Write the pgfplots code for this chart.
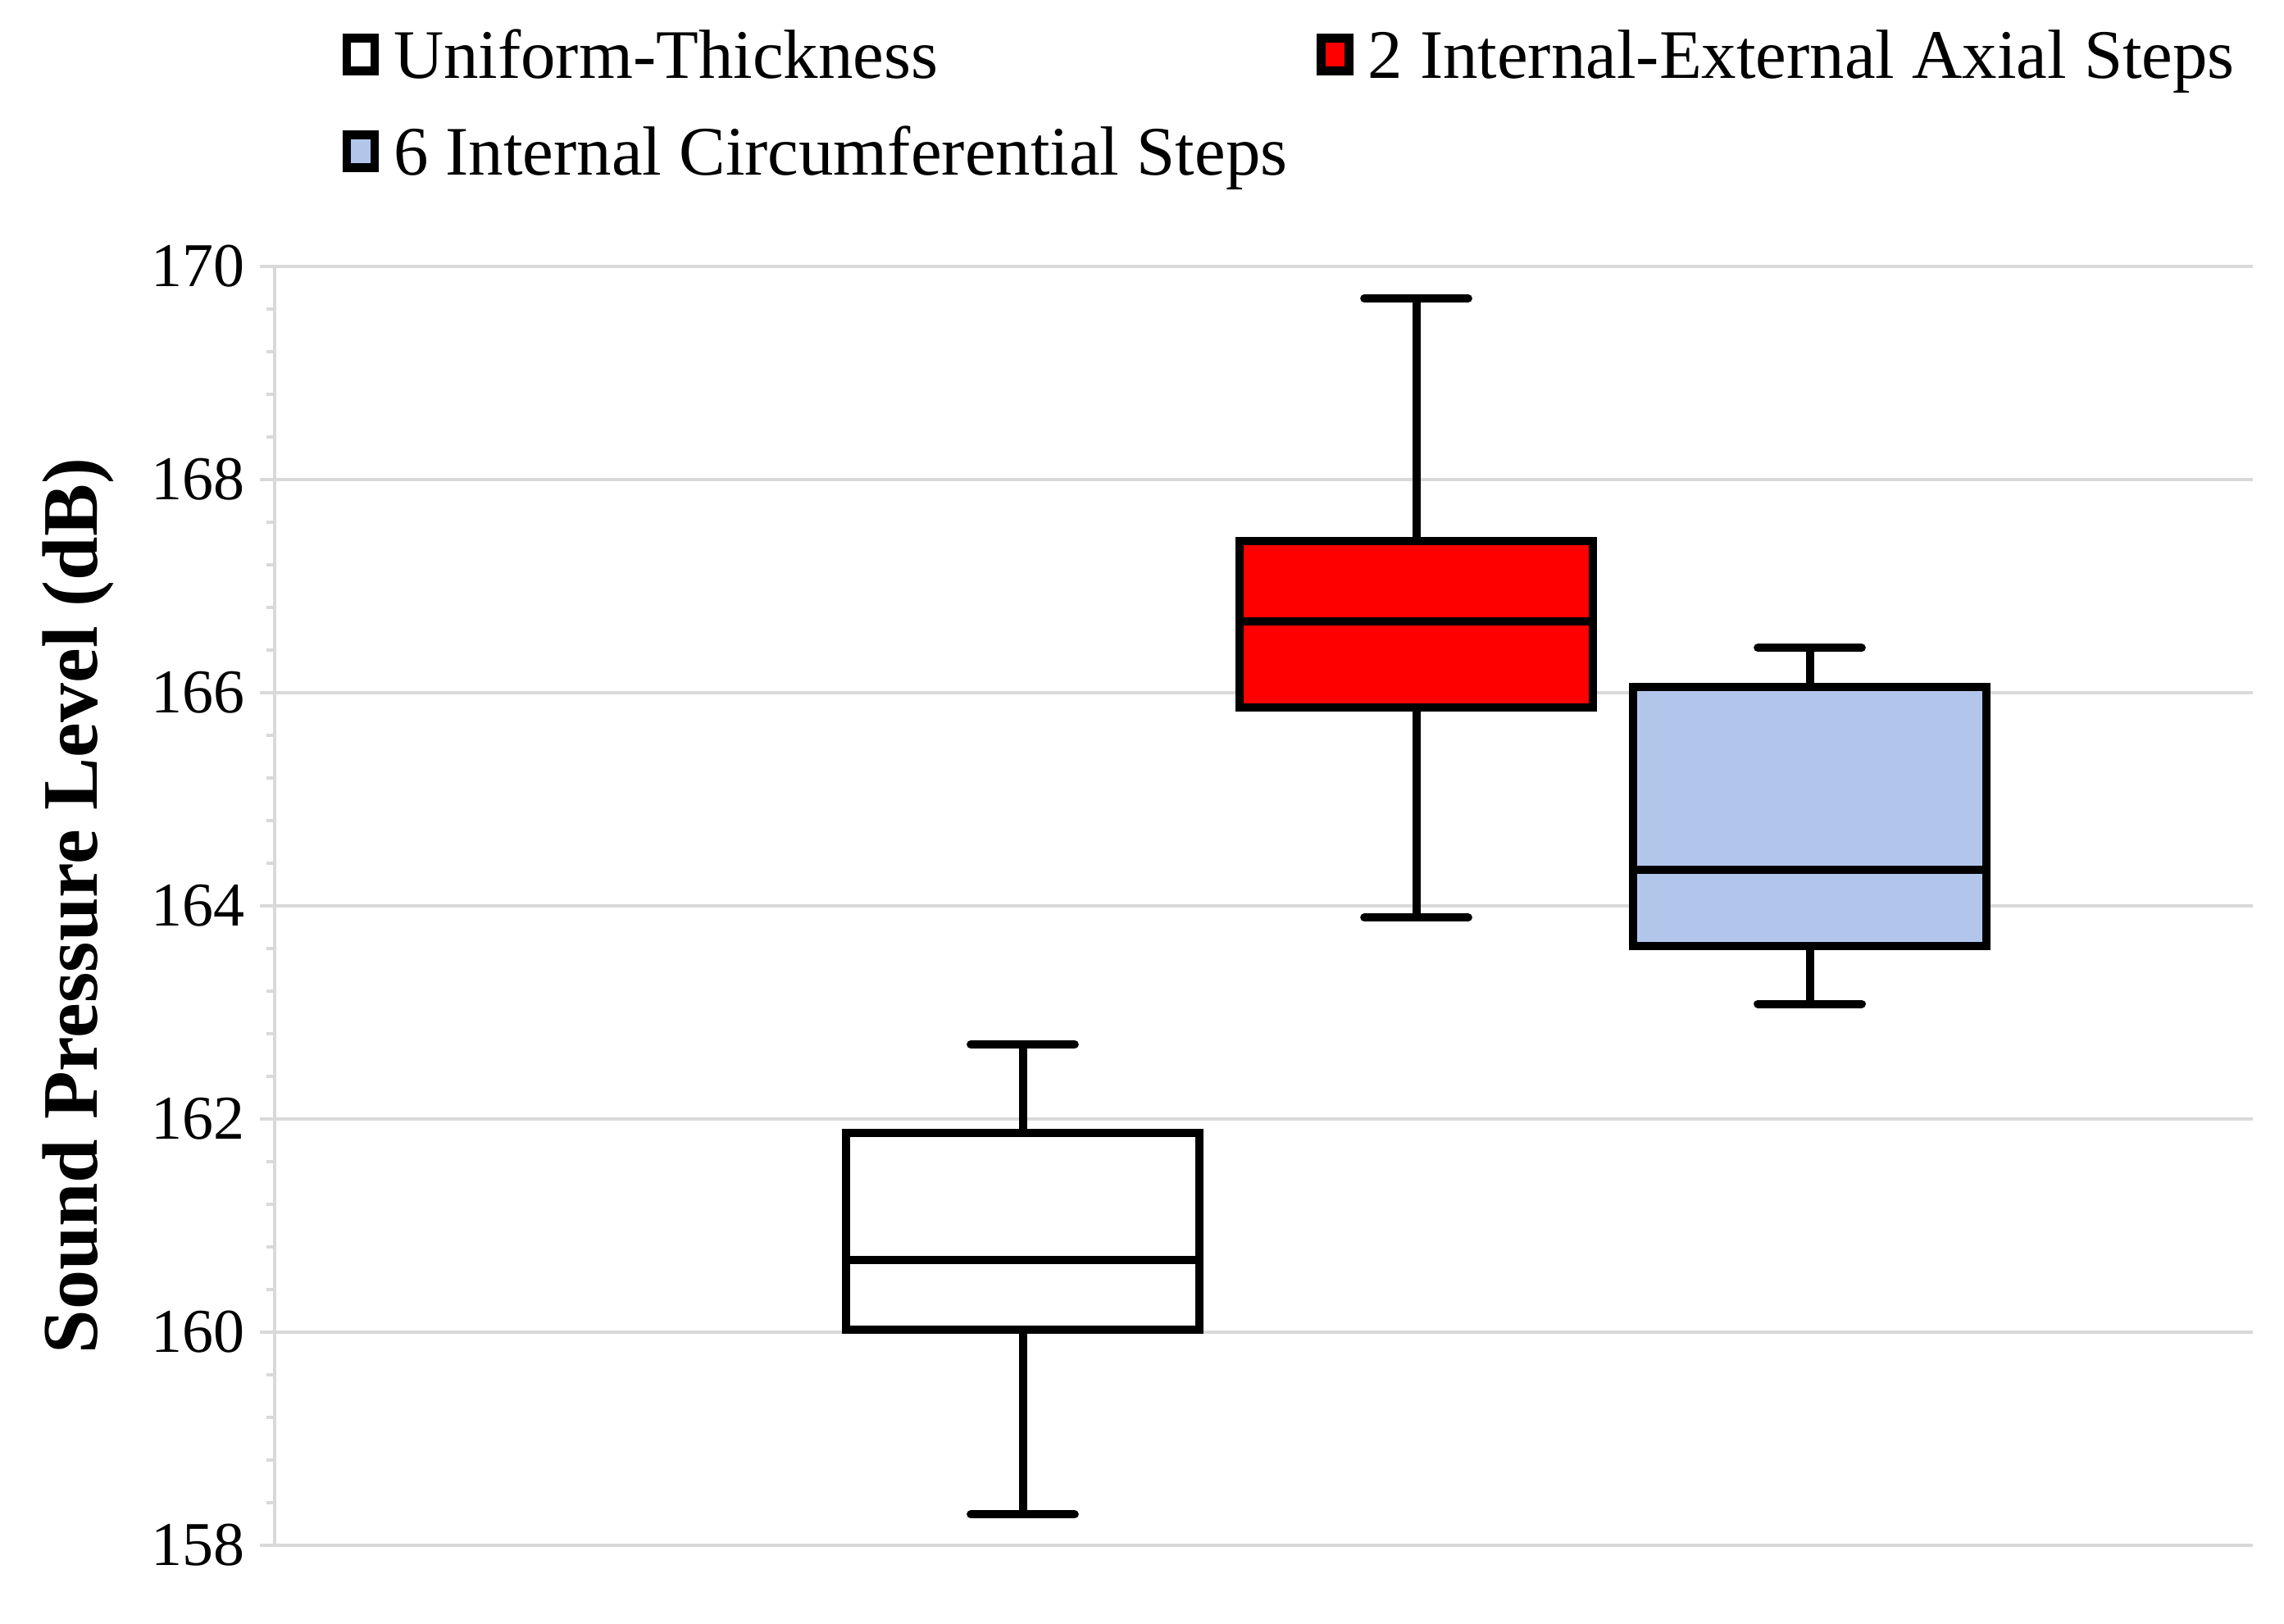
\documentclass[border=0pt]{standalone}
\usepackage{fontspec}
\setmainfont{Liberation Serif}
\usepackage{pgfplots}
\pgfplotsset{compat=1.18}
\definecolor{gridc}{RGB}{217,217,217}
\definecolor{boxblue}{RGB}{178,198,236}
\definecolor{boxred}{RGB}{255,0,0}
\begin{document}
\begin{tikzpicture}
\begin{axis}[
  scale only axis,
  width=603.25pt, height=390pt,
  xmin=0, xmax=5.027,
  ymin=158, ymax=170,
  ytick={158,160,162,164,166,168,170},
  minor y tick num=4,
  xtick=\empty,
  axis lines*=left,
  x axis line style={draw=none},
  y axis line style={draw=gridc, line width=1.2pt},
  ymajorgrids,
  major grid style={draw=gridc, line width=0.8pt},
  tick align=outside,
  major tick length=4.5pt,
  minor tick length=2.5pt,
  every tick/.style={draw=gridc, line width=0.8pt},
  /pgf/number format/assume math mode=true,
  yticklabel style={font=\fontsize{19}{19}\selectfont, xshift=-1pt},
  ylabel={Sound Pressure Level (dB)},
  ylabel style={font=\fontsize{24}{24}\selectfont\bfseries},
  ylabel shift=4.5pt,
  legend columns=2,
  legend style={at={(axis description cs:0.034,1.191)}, anchor=north west, draw=none, inner sep=0pt,
    font=\fontsize{21.2}{21.2}\selectfont, /tikz/every even column/.append style={column sep=7pt},
    row sep=9pt},
  legend cell align=left,
  every axis plot/.append style={line width=2.5pt},
]
\addlegendimage{legend image code/.code={\draw[draw=black, fill=white, line width=2.6pt] (0pt,-4.5pt) rectangle (8.5pt,5.5pt); \path (11pt,0pt);}}
\addlegendentry{Uniform-Thickness}
\addlegendimage{legend image code/.code={\draw[draw=black, fill=boxred, line width=2.6pt] (0pt,-4.5pt) rectangle (8.5pt,5.5pt); \path (11pt,0pt);}}
\addlegendentry{2 Internal-External Axial Steps}
\addlegendimage{legend image code/.code={\draw[draw=black, fill=boxblue, line width=2.6pt] (0pt,-4.5pt) rectangle (8.5pt,5.5pt); \path (11pt,0pt);}}
\addlegendentry{6 Internal Circumferential Steps}
% Uniform-Thickness: whiskers 158.29 / 162.70, box 160.02-161.87, median 160.68
\addplot[forget plot, black] coordinates {(1.901,158.29) (1.901,162.70)};
\addplot[forget plot, black, line cap=round] coordinates {(1.769,158.29) (2.033,158.29)};
\addplot[forget plot, black, line cap=round] coordinates {(1.769,162.70) (2.033,162.70)};
\addplot[forget plot, draw=black, fill=white] coordinates {(1.452,160.02) (2.350,160.02) (2.350,161.87) (1.452,161.87)} -- cycle;
\addplot[forget plot, black] coordinates {(1.452,160.68) (2.350,160.68)};
% 2 Internal-External Axial Steps
\addplot[forget plot, black] coordinates {(2.901,163.89) (2.901,169.70)};
\addplot[forget plot, black, line cap=round] coordinates {(2.769,163.89) (3.033,163.89)};
\addplot[forget plot, black, line cap=round] coordinates {(2.769,169.70) (3.033,169.70)};
\addplot[forget plot, draw=black, fill=boxred] coordinates {(2.452,165.86) (3.350,165.86) (3.350,167.42) (2.452,167.42)} -- cycle;
\addplot[forget plot, black] coordinates {(2.452,166.67) (3.350,166.67)};
% 6 Internal Circumferential Steps
\addplot[forget plot, black] coordinates {(3.901,163.08) (3.901,166.42)};
\addplot[forget plot, black, line cap=round] coordinates {(3.769,163.08) (4.033,163.08)};
\addplot[forget plot, black, line cap=round] coordinates {(3.769,166.42) (4.033,166.42)};
\addplot[forget plot, draw=black, fill=boxblue] coordinates {(3.452,163.62) (4.350,163.62) (4.350,166.05) (3.452,166.05)} -- cycle;
\addplot[forget plot, black] coordinates {(3.452,164.34) (4.350,164.34)};
\end{axis}
\pgfresetboundingbox
\path ([xshift=-83.75pt, yshift=-24pt]current axis.south west) rectangle ([xshift=9.5pt, yshift=81.25pt]current axis.north east);
\end{tikzpicture}
\end{document}
